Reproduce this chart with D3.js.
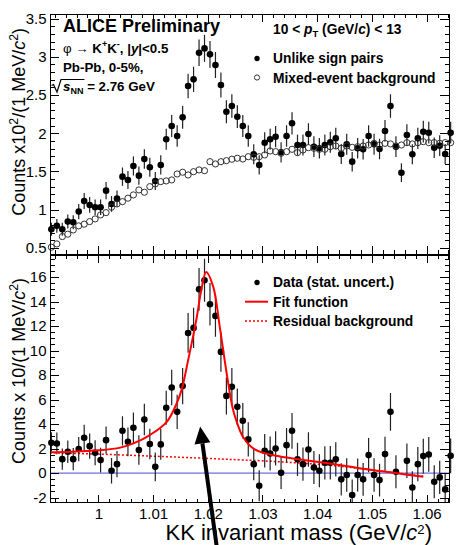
<!DOCTYPE html>
<html>
<head>
<meta charset="utf-8">
<script src="https://cdn.jsdelivr.net/npm/d3@7"></script>
<style>
  html, body { margin: 0; padding: 0; background: #fff; }
  svg { display: block; font-family: "Liberation Sans", Arial, Helvetica, sans-serif; }
</style>
</head>
<body>
<svg id="chart" width="456" height="545"></svg>
<script>
// ---- data -------------------------------------------------------------
// KK invariant mass bins, 1 MeV/c^2 wide (bin centres in GeV/c^2)
const binFirstCentre = 0.9914;
const binWidth = 0.001;

// unlike-sign K+K- pairs, counts x10^2 per MeV/c^2
const unlikeSign = [0.744,0.788,0.744,0.844,0.836,0.975,1.114,1.062,1.032,1.032,
  1.249,1.075,1.144,1.432,1.389,1.572,1.445,1.663,1.555,1.376,
  1.585,1.921,2.095,1.964,2.208,2.618,2.705,3.053,3.11,3.032,
  2.892,2.631,2.282,2.356,2.216,2.095,1.964,1.725,1.585,1.876,
  1.921,1.955,1.751,1.964,2.13,1.846,1.846,1.99,1.824,1.803,
  1.846,1.882,1.934,1.729,1.856,1.628,1.803,1.79,1.964,1.856,
  1.794,2.03,2.356,1.824,1.484,1.977,1.725,1.934,2.02,2.007,
  1.811,1.837,1.729,2.007];

// normalised mixed-event background, counts x10^2 per MeV/c^2
const mixedEvent = [0.509,0.552,0.648,0.679,0.735,0.788,0.81,0.844,0.879,0.931,
  0.961,1.032,1.075,1.105,1.15,1.193,1.258,1.228,1.301,1.337,
  1.367,1.376,1.389,1.467,1.49,1.454,1.497,1.52,1.51,1.628,
  1.598,1.628,1.641,1.66,1.673,1.663,1.693,1.685,1.693,1.716,
  1.768,1.759,1.738,1.759,1.79,1.746,1.781,1.811,1.803,1.79,
  1.79,1.824,1.833,1.803,1.833,1.816,1.824,1.833,1.846,1.868,
  1.846,1.868,1.86,1.833,1.846,1.877,1.86,1.877,1.89,1.877,
  1.877,1.868,1.877,1.877];

// background-subtracted signal, counts x10 per MeV/c^2
const signal = [2.47,2.42,1.14,1.74,1.14,1.96,2.88,2.2,1.66,1.06,
  2.69,0.19,0.73,3.45,2.55,3.7,1.88,4.38,2.37,0.51,
  2.34,5.33,6.99,5.0,7.1,11.44,11.85,15.0,15.74,13.78,
  12.83,9.89,6.3,7.04,5.41,4.27,2.75,0.73,-1.03,1.82,
  1.6,2.01,0.02,2.28,3.45,1.12,0.73,1.93,0.46,0.19,
  0.84,0.84,1.12,-0.51,-0.16,-1.79,-0.16,-0.51,1.47,-0.16,
  -0.57,1.55,5.0,0.11,-3.6,1.0,-1.17,0.73,1.39,1.52,
  -0.71,-0.35,-1.33,1.41];

// fit function (peak + residual background), sampled: [mass, counts x10]
const fitFunction = [[0.99115,1.70],[0.995,1.74],[1.000,1.86],[1.004,2.08],[1.0064,2.42],
  [1.0094,3.1],[1.0125,4.18],[1.0143,5.68],[1.0152,6.77],[1.0164,9.2],[1.0179,12.5],
  [1.0188,14.9],[1.0197,16.42],[1.0210,15.2],[1.0222,11.9],[1.0235,8.0],[1.0245,5.4],
  [1.0252,4.3],[1.0265,2.9],[1.0285,1.95],[1.032,1.45],[1.0355,1.2],[1.042,0.8],
  [1.048,0.38],[1.054,0.02],[1.0594,-0.3]];

// residual background component of the fit: [mass, counts x10]
const residualBackground = [[0.99115,1.66],[1.000,1.55],[1.010,1.38],[1.020,1.2],
  [1.0237,1.12],[1.030,1.0],[1.042,0.65],[1.048,0.36],[1.0594,-0.25]];

// tick values
const massMajorTicks = [1.00,1.01,1.02,1.03,1.04,1.05,1.06];
const topMajorTicks = [0.5,1,1.5,2,2.5,3,3.5];
const bottomMajorTicks = [-2,0,2,4,6,8,10,12,14,16];

// arrow marking the phi peak: [mass, counts x10] tail -> tip
const peakArrow = [[1.0216,-5.9],[1.0186,3.8]];

// ---- layout ----------------------------------------------------------
const frameL = 50, frameR = 449;
const topPad = {t: 14, b: 254};
const botPad = {t: 255, b: 502.5};

const svg = d3.select('#chart');
const masses = unlikeSign.map((_, i) => binFirstCentre + i * binWidth);

const x = d3.scaleLinear().domain([0.99115, 1.0641]).range([frameL, frameR]);
const yTop = d3.scaleLinear().domain([0.42, 3.56]).range([topPad.b, topPad.t]);
const yBot = d3.scaleLinear().domain([-2.4, 17.8]).range([botPad.b, botPad.t]);

const minorMass = d3.range(992, 1065, 2).map(v => v / 1000).filter(v => !massMajorTicks.some(m => Math.abs(m - v) < 1e-9));
const minorTop = d3.range(5, 36, 1).map(v => v / 10).filter(v => !topMajorTicks.some(m => Math.abs(m - v) < 1e-9));
const minorBot = d3.range(-4, 36, 1).map(v => v / 2).filter(v => v >= -2.4 && v <= 17.8 && !bottomMajorTicks.includes(v));

function styleAxis(g) {
  g.select('.domain').remove();
  g.selectAll('.tick line').attr('stroke', '#000').attr('stroke-width', 1);
  g.selectAll('.tick text').attr('fill', '#000').style('font-size', '15px')
    .style('font-family', '"Liberation Sans", Arial, sans-serif');
  return g;
}

function frameAxes(yScale, pad, majorY, minorY, yLabels, xLabels) {
  const axes = svg.append('g').attr('shape-rendering', 'crispEdges');
  // left
  axes.append('g').attr('transform', `translate(${frameL},0)`)
    .call(d3.axisLeft(yScale).tickValues(majorY).tickSize(-9).tickPadding(3.5)
      .tickFormat(yLabels ? (d => String(d)) : () => ''))
    .call(styleAxis);
  axes.append('g').attr('transform', `translate(${frameL},0)`)
    .call(d3.axisLeft(yScale).tickValues(minorY).tickSize(-4.5).tickFormat(() => ''))
    .call(styleAxis);
  // right
  axes.append('g').attr('transform', `translate(${frameR},0)`)
    .call(d3.axisRight(yScale).tickValues(majorY).tickSize(-9).tickFormat(() => ''))
    .call(styleAxis);
  axes.append('g').attr('transform', `translate(${frameR},0)`)
    .call(d3.axisRight(yScale).tickValues(minorY).tickSize(-4.5).tickFormat(() => ''))
    .call(styleAxis);
  // bottom
  axes.append('g').attr('transform', `translate(0,${pad.b})`)
    .call(d3.axisBottom(x).tickValues(massMajorTicks).tickSize(-8).tickPadding(5.5)
      .tickFormat(xLabels ? (d => String(d)) : () => ''))
    .call(styleAxis);
  axes.append('g').attr('transform', `translate(0,${pad.b})`)
    .call(d3.axisBottom(x).tickValues(minorMass).tickSize(-4).tickFormat(() => ''))
    .call(styleAxis);
  // top
  axes.append('g').attr('transform', `translate(0,${pad.t})`)
    .call(d3.axisTop(x).tickValues(massMajorTicks).tickSize(-8).tickFormat(() => ''))
    .call(styleAxis);
  axes.append('g').attr('transform', `translate(0,${pad.t})`)
    .call(d3.axisTop(x).tickValues(minorMass).tickSize(-4).tickFormat(() => ''))
    .call(styleAxis);
  axes.append('rect').attr('x', frameL).attr('y', pad.t)
    .attr('width', frameR - frameL).attr('height', pad.b - pad.t)
    .attr('fill', 'none').attr('stroke', '#000').attr('stroke-width', 1);
}

// text with italic / super / subscript runs
function rich(sel, px, py, parts, size, weight, anchor, supShift, supScale) {
  const t = sel.append('text').attr('x', px).attr('y', py)
    .style('font-size', size + 'px').style('font-weight', weight || 'normal')
    .attr('fill', '#000');
  if (anchor) t.attr('text-anchor', anchor);
  const up = supShift || 0.4;
  const small = supScale || 0.68;
  let shift = 0;
  parts.forEach(p => {
    const s = t.append('tspan').text(p.t);
    const target = p.sup ? -up * size : p.sub ? 0.25 * size : 0;
    s.attr('dy', target - shift);
    shift = target;
    if (p.sup || p.sub) s.style('font-size', (size * small) + 'px');
    if (p.i) s.style('font-style', 'italic');
    if (p.w) s.style('font-weight', p.w);
  });
  return t;
}

// ---- top panel: unlike-sign pairs and mixed-event background ----------
const topData = masses.map((m, i) => ({m, v: unlikeSign[i], err: Math.sqrt(unlikeSign[i] * 100) / 100}));
const gTop = svg.append('g');
gTop.selectAll('line.err').data(topData).join('line').attr('class', 'err')
  .attr('x1', d => x(d.m)).attr('x2', d => x(d.m))
  .attr('y1', d => yTop(d.v - d.err)).attr('y2', d => yTop(d.v + d.err))
  .attr('stroke', '#222').attr('stroke-width', 1.2);
gTop.selectAll('circle.us').data(topData).join('circle').attr('class', 'us')
  .attr('cx', d => x(d.m)).attr('cy', d => yTop(d.v)).attr('r', 3.3).attr('fill', '#000');
gTop.selectAll('circle.me').data(masses.map((m, i) => ({m, v: mixedEvent[i]}))).join('circle').attr('class', 'me')
  .attr('cx', d => x(d.m)).attr('cy', d => yTop(d.v)).attr('r', 3.1)
  .attr('fill', 'none').attr('stroke', '#333').attr('stroke-width', 1);

frameAxes(yTop, topPad, topMajorTicks, minorTop, true, false);

// ---- bottom panel: subtracted signal with fit ---------------------------
svg.append('clipPath').attr('id', 'botClip').append('rect')
  .attr('x', frameL - 6).attr('y', botPad.t).attr('width', frameR - frameL + 12).attr('height', botPad.b - botPad.t);
const gBot = svg.append('g').attr('clip-path', 'url(#botClip)');

gBot.append('line').attr('x1', frameL).attr('x2', frameR).attr('y1', yBot(0)).attr('y2', yBot(0))
  .attr('stroke', '#6f6fe0').attr('stroke-width', 1.2);

const line = d3.line().x(d => x(d[0])).y(d => yBot(d[1])).curve(d3.curveCatmullRom.alpha(0.5));
gBot.append('path').datum(residualBackground).attr('d', line)
  .attr('fill', 'none').attr('stroke', '#ff0000').attr('stroke-width', 1.5).attr('stroke-dasharray', '2,2');

const botData = masses.map((m, i) => ({m, v: signal[i], err: Math.sqrt(unlikeSign[i] * 100) / 10}));
gBot.selectAll('line.err').data(botData).join('line').attr('class', 'err')
  .attr('x1', d => x(d.m)).attr('x2', d => x(d.m))
  .attr('y1', d => yBot(d.v - d.err)).attr('y2', d => yBot(d.v + d.err))
  .attr('stroke', '#222').attr('stroke-width', 1.2);
gBot.selectAll('circle').data(botData.filter(d => d.v >= yBot.domain()[0])).join('circle')
  .attr('cx', d => x(d.m)).attr('cy', d => yBot(d.v)).attr('r', 3.3).attr('fill', '#000');

gBot.append('path').datum(fitFunction).attr('d', line)
  .attr('fill', 'none').attr('stroke', '#ff0000').attr('stroke-width', 2);

frameAxes(yBot, botPad, bottomMajorTicks, minorBot, true, true);

// ---- texts -----------------------------------------------------------
const txt = svg.append('g');
rich(txt, 63, 31.5, [{t: 'ALICE Preliminary'}], 18, 'bold');
rich(txt, 63, 52.5, [{t: 'φ → ', w: 'normal'}, {t: 'K'}, {t: '+', sup: true}, {t: 'K'}, {t: '-', sup: true},
  {t: ', |'}, {t: 'y', i: true}, {t: '|<0.5'}], 13.3, 'bold');
rich(txt, 63, 71.5, [{t: 'Pb-Pb, 0-5%,'}], 13.3, 'bold');
const sqrtText = rich(txt, 63, 90.5, [{t: 's', i: true}, {t: 'NN', sub: true}, {t: ' = 2.76 GeV'}], 13.3, 'bold');
const radLen = sqrtText.node().getSubStringLength(0, 3);
txt.append('path')
  .attr('d', `M51.5,85.5 L53.5,84.5 L57,92 L61,79.5 L${63 + radLen + 1},79.5`)
  .attr('fill', 'none').attr('stroke', '#000').attr('stroke-width', 1.2);

rich(txt, 273, 34, [{t: '10 < '}, {t: 'p', i: true}, {t: 'T', sub: true}, {t: ' (GeV/'}, {t: 'c', i: true}, {t: ') < 13'}], 13.8, 'bold');

// top legend
txt.append('circle').attr('cx', 257).attr('cy', 58.5).attr('r', 2.7).attr('fill', '#000');
rich(txt, 273, 63, [{t: 'Unlike sign pairs'}], 13.8, 'bold');
txt.append('circle').attr('cx', 257).attr('cy', 77.5).attr('r', 2.6).attr('fill', 'none').attr('stroke', '#333').attr('stroke-width', 1);
rich(txt, 273, 82.5, [{t: 'Mixed-event background'}], 13.8, 'bold');

// bottom legend
txt.append('circle').attr('cx', 257).attr('cy', 282.5).attr('r', 2.7).attr('fill', '#000');
rich(txt, 273, 287, [{t: 'Data (stat. uncert.)'}], 13.8, 'bold');
txt.append('line').attr('x1', 245).attr('x2', 268).attr('y1', 301.7).attr('y2', 301.7)
  .attr('stroke', '#ff0000').attr('stroke-width', 2);
rich(txt, 273, 306.5, [{t: 'Fit function'}], 13.8, 'bold');
txt.append('line').attr('x1', 245).attr('x2', 268).attr('y1', 321).attr('y2', 321)
  .attr('stroke', '#ff0000').attr('stroke-width', 1.5).attr('stroke-dasharray', '2,2');
rich(txt, 273, 326, [{t: 'Residual background'}], 13.8, 'bold');

// axis titles
rich(txt.append('g').attr('transform', 'translate(25,28) rotate(-90)'), 0, 0,
  [{t: 'Counts x10'}, {t: '2', sup: true}, {t: '/(1 MeV/'}, {t: 'c', i: true}, {t: '2', sup: true}, {t: ')'}], 18, 'normal', 'end');
rich(txt.append('g').attr('transform', 'translate(25,278) rotate(-90)'), 0, 0,
  [{t: 'Counts x 10/(1 MeV/'}, {t: 'c', i: true}, {t: '2', sup: true}, {t: ')'}], 18, 'normal', 'end');
rich(txt, 432, 540.3, [{t: 'KK invariant mass (GeV/'}, {t: 'c', i: true}, {t: '2', sup: true}, {t: ')'}], 22, 'normal', 'end', 0.28, 0.6);

// ---- arrow at the phi peak --------------------------------------------
const [tail, tip] = peakArrow.map(d => [x(d[0]), yBot(d[1])]);
const ang = Math.atan2(tip[1] - tail[1], tip[0] - tail[0]);
const headLen = 17, headHalf = 8;
const base = [tip[0] - headLen * Math.cos(ang), tip[1] - headLen * Math.sin(ang)];
const nx = -Math.sin(ang), ny = Math.cos(ang);
svg.append('line').attr('x1', tail[0]).attr('y1', tail[1]).attr('x2', base[0]).attr('y2', base[1])
  .attr('stroke', '#000').attr('stroke-width', 4);
svg.append('path')
  .attr('d', `M${tip[0]},${tip[1]} L${base[0] + nx * headHalf},${base[1] + ny * headHalf} L${base[0] - nx * headHalf},${base[1] - ny * headHalf} Z`)
  .attr('fill', '#000');
</script>
</body>
</html>
